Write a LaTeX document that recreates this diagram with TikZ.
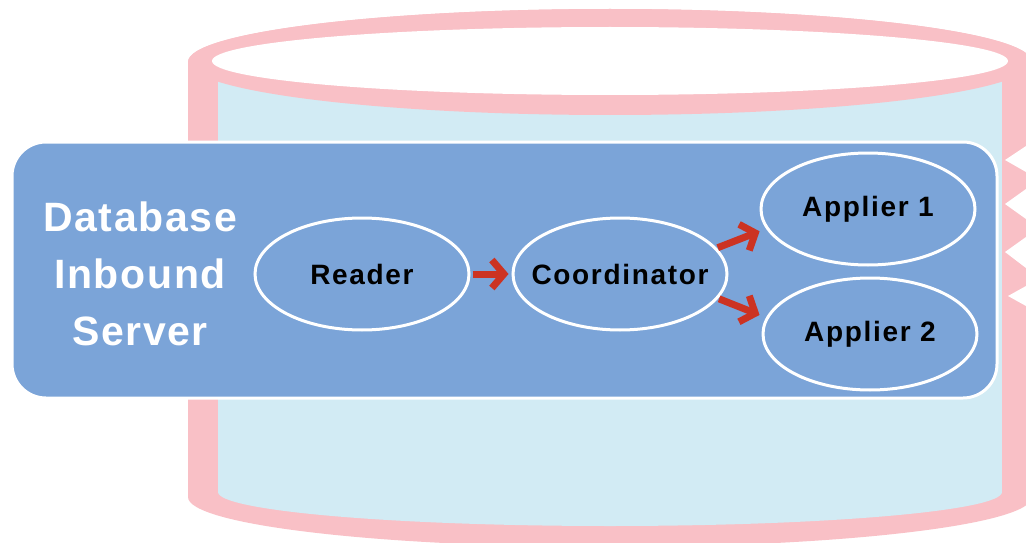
\documentclass[tikz,border=0pt]{standalone}
\usepackage{fontspec}
\setmainfont{Liberation Sans}
\newfontfamily\nodefont[LetterSpace=6]{Liberation Sans}
\newfontfamily\titlefont[LetterSpace=4]{Liberation Sans}
\usetikzlibrary{arrows.meta,shapes.geometric}
\definecolor{cylpink}{RGB}{249,192,198}
\definecolor{cylblue}{RGB}{210,235,244}
\definecolor{boxblue}{RGB}{123,164,216}
\definecolor{arrred}{RGB}{204,51,34}
\begin{document}
\begin{tikzpicture}[x=1pt,y=-1pt,
  proc/.style={ellipse, draw=white, line width=3pt, minimum width=214pt,
    minimum height=112pt, inner ysep=0pt, inner xsep=-40pt, text=black,
    font=\fontsize{28}{32}\selectfont\nodefont\bfseries},
  flow/.style={draw=arrred, line width=7pt,
    -{Straight Barb[length=12pt,width=28pt]}},
  notch/.style={fill=white},
]
\useasboundingbox (0,0) rectangle (1026,543);
\fill[white] (0,0) rectangle (1026,543);
% cylinder body
\fill[cylpink] (610,62) ellipse[x radius=422, y radius=53];
\fill[cylpink] (188,62) rectangle (1032,497);
\fill[cylpink] (610,497) ellipse[x radius=422, y radius=50];
\fill[cylblue] (218,62) rectangle (1002,492);
\fill[cylblue] (610,492) ellipse[x radius=392, y radius=34];
% top ring
\fill[cylpink] (610,62) ellipse[x radius=422, y radius=53];
\fill[white] (610,61) ellipse[x radius=398, y radius=34];
% notches on the right rim
\fill[notch] (1026,146) -- (1005,160) -- (1026,172) -- cycle;
\fill[notch] (1026,189) -- (1005,204) -- (1026,219) -- cycle;
\fill[notch] (1026,237) -- (1005,252) -- (1026,268) -- cycle;
\fill[notch] (1026,286) -- (1008,296) -- (1026,306) -- cycle;
% server box
\draw[fill=boxblue, draw=white, line width=3pt, rounded corners=34pt]
  (12,142) rectangle (997,398);
\node[font=\fontsize{41}{57}\selectfont\titlefont\bfseries, text=white,
  align=center, inner sep=0pt] (srv) at (140,274) {Database\\Inbound\\Server};
% processes
\node[proc] (rd) at (362,274) {Reader};
\node[proc] (co) at (620,274) {Coordinator};
\node[proc] (a1) at (868,209) {Applier 1};
\node[proc] (a2) at (870,334) {Applier 2};
% flows
\draw[flow, shorten <=2pt, shorten >=3pt] (rd.east) -- (co.west);
\draw[flow, shorten <=1pt, shorten >=7pt] (co.15) -- (a1.191);
\draw[flow, shorten <=1pt, shorten >=7pt] (co.-14) -- (a2.171);
\end{tikzpicture}
\end{document}
